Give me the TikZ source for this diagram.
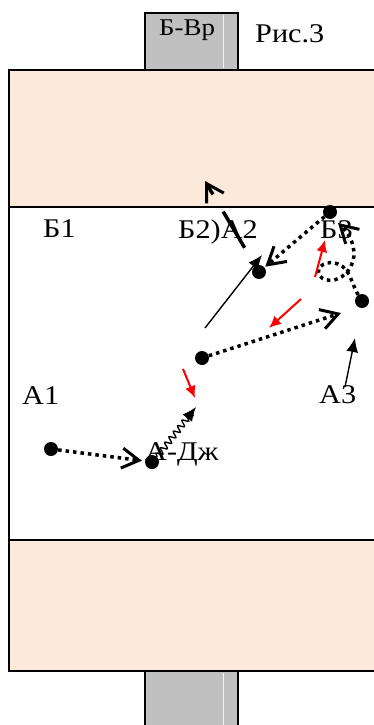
\documentclass[tikz,border=0pt]{standalone}
\usepackage{fontspec}
\setmainfont{Liberation Serif}[FakeStretch=1.12]
\usepackage{tikz}
\usetikzlibrary{arrows.meta,decorations.pathmorphing}
\definecolor{peach}{RGB}{251,233,219}
\definecolor{goalgray}{RGB}{192,192,192}

\begin{document}
\begin{tikzpicture}[x=1pt, y=-1pt,
    zone/.style={fill=peach, draw=black, line width=2pt},
    goalbox/.style={fill=goalgray, draw=black, line width=2pt},
    lbl/.style={font=\fontsize{27}{29}\selectfont, inner sep=0pt, anchor=base west},
    player/.style={circle, fill=black, inner sep=0pt, minimum size=14pt},
    barb/.style={-{Straight Barb[length=17pt, width=20pt, line width=3pt]}},
    run/.style={barb, line width=3.5pt, dash pattern=on 3.5pt off 4pt},
    pass/.style={barb, line width=3.5pt, dash pattern=on 42pt off 20pt},
    move/.style={line width=1.4pt, -{Latex[length=14pt, width=12pt]}},
    hint/.style={red, line width=2pt, -{Latex[length=12pt, width=11pt]}},
    dribble/.style={move, decorate, decoration={snake, amplitude=3pt, segment length=7pt, post length=6pt}}]
    \useasboundingbox (0,0) rectangle (374,725);

    % Zones
    \draw[zone] (9,69.5) rectangle (380,207);
    \draw[line width=2pt] (9,207) rectangle (380,540);
    \draw[zone] (9,540) rectangle (380,671);

    % Goals
    \draw[goalbox] (145,13) rectangle (238,69.5);
    \draw[goalbox] (145,671) rectangle (238,730);
    \draw[white!80!goalgray, line width=0.6pt] (223,15) -- (223,68);
    \draw[white!80!goalgray, line width=0.6pt] (223,673) -- (223,725);

    % Labels
    \node[lbl, font=\fontsize{24}{26}\selectfont] (bvr) at (159,36) {Б-Вр};
    \node[lbl] (fig) at (255,43) {Рис.3};
    \node[lbl] (b1) at (43,237) {Б1};
    \node[lbl] (b2a2) at (178,238) {Б2)А2};
    \node[lbl] (b3l) at (320,238) {Б3};
    \node[lbl] (a1l) at (22,404) {А1};
    \node[lbl] (a3l) at (319,403) {А3};
    \node[lbl] (adzhl) at (145,460) {А-Дж};

    % Players
    \foreach \n/\x/\y in {a1/51/449, adzh/152/462, p3/202/358, p4/259/272, b3/330/212, p6/362/301}
        \node[player] (\n) at (\x,\y) {};

    % Free ends
    \coordinate (s1) at (196,407);
    \coordinate (t3) at (341,313);
    \coordinate (l6) at (205,328);
    \coordinate (l6b) at (262,255);
    \coordinate (t8) at (205,181);
    \coordinate (t10) at (338,223);
    \coordinate (l11) at (345,387);
    \coordinate (l11b) at (355,338);
    \coordinate (r1) at (183,369);
    \coordinate (r1b) at (195,398);
    \coordinate (r2) at (301,299);
    \coordinate (r2b) at (269,328);
    \coordinate (r9) at (315,277);
    \coordinate (r9b) at (325,240);

    % Runs and passes
    \draw[run, shorten >=3pt] (a1) -- (adzh);
    \draw[dribble] (adzh.north east) -- (s1);
    \draw[run] (p3) -- (t3);
    \draw[move] (l6) -- (l6b);
    \draw[run, shorten >=1pt] (b3) -- (p4);
    \draw[pass, shorten <=21pt] (p4) -- (t8);
    \draw[run] (p6) .. controls (352,285) and (350,268) .. (338,264)
        .. controls (322,258) and (313,272) .. (322,278)
        .. controls (332,284) and (345,278) .. (351,266)
        .. controls (357,255) and (354,238) .. (t10);
    \draw[move] (l11) -- (l11b);

    % Red hints
    \draw[hint] (r1) -- (r1b);
    \draw[hint] (r2) -- (r2b);
    \draw[hint] (r9) -- (r9b);
\end{tikzpicture}
\end{document}
